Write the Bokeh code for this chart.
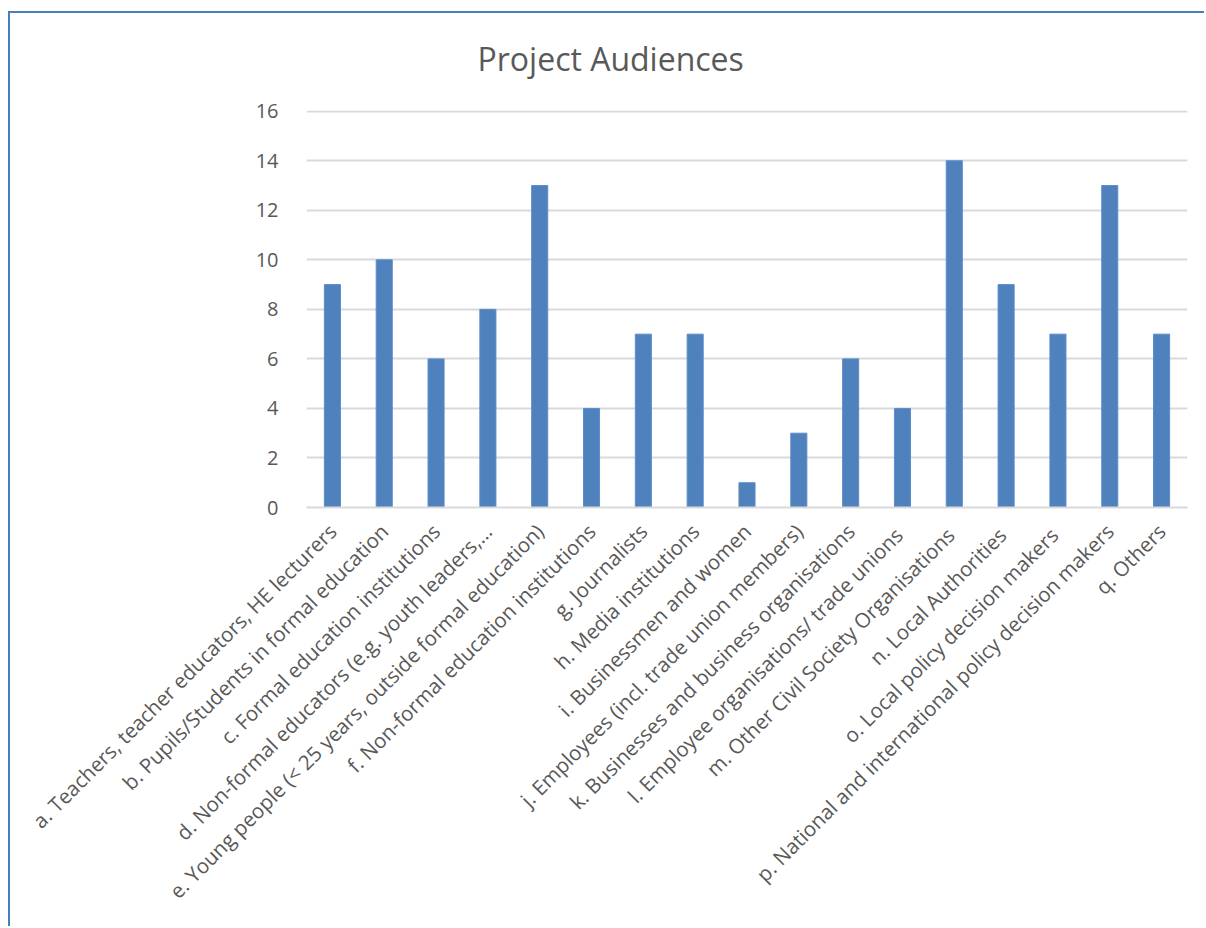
from bokeh.plotting import figure
from bokeh.embed import file_html
from bokeh.resources import INLINE
from bokeh.models import SingleIntervalTicker
import math

title_text = "Project Audiences"
categories = [
    "a. Teachers, teacher educators, HE lecturers",
    "b. Pupils/Students in formal education",
    "c. Formal education institutions",
    "d. Non-formal educators (e.g. youth leaders,\u2026",
    "e. Young people (< 25 years, outside formal education)",
    "f. Non-formal education institutions",
    "g. Journalists",
    "h. Media institutions",
    "i. Businessmen and women",
    "j. Employees (incl. trade union members)",
    "k. Businesses and business organisations",
    "l.  Employee organisations/ trade unions",
    "m.  Other Civil Society Organisations",
    "n.  Local Authorities",
    "o.  Local policy decision makers",
    "p. National and international policy decision makers",
    "q. Others",
]
values = [9, 10, 6, 8, 13, 4, 7, 7, 1, 3, 6, 4, 14, 9, 7, 13, 7]

FONT = "Open Sans"
TXT = "#595959"
FRAME = "#4a7ebb"

p = figure(
    x_range=categories, y_range=(0, 16.03),
    width=1204, height=926,
    output_backend="svg", toolbar_location=None,
    title=title_text,
    min_border_left=306, min_border_right=17, min_border_top=110, min_border_bottom=419,
    margin=(0, 0, 0, 0),
    styles={
        "background": (
            f"linear-gradient({FRAME},{FRAME}) 8px 11px / 2px 100% no-repeat, "
            f"linear-gradient({FRAME},{FRAME}) 8px 11px / 100% 2px no-repeat, white"
        )
    },
)
p.border_fill_color = None
p.outline_line_color = None
p.vbar(x=categories, top=values, width=0.31, fill_color="#4f81bd", line_color="#5b8ccb", line_width=1)

p.title.align = "left"
p.title.text_font = FONT
p.title.text_font_size = "32px"
p.title.text_font_style = "normal"
p.title.text_color = TXT
p.title.standoff = 62
p.title.offset = 171

p.yaxis.ticker = SingleIntervalTicker(interval=2)
p.yaxis.axis_line_color = None
p.yaxis.major_tick_line_color = None
p.yaxis.minor_tick_line_color = None
p.yaxis.major_label_text_font = FONT
p.yaxis.major_label_text_font_size = "20px"
p.yaxis.major_label_text_color = TXT
p.yaxis.major_label_standoff = 22

p.xaxis.axis_line_color = "#d9d9d9"
p.xaxis.axis_line_width = 2
p.xaxis.major_tick_line_color = None
p.xaxis.minor_tick_line_color = None
p.xaxis.major_label_orientation = math.pi / 4
p.xaxis.major_label_text_font = FONT
p.xaxis.major_label_text_font_size = "20.5px"
p.xaxis.major_label_text_color = TXT
p.xaxis.major_label_standoff = 14

p.xgrid.grid_line_color = None
p.ygrid.grid_line_color = "#d9d9d9"
p.ygrid.grid_line_width = 2
p.x_range.range_padding = 0

open("out.html", "w").write(file_html(p, INLINE))
